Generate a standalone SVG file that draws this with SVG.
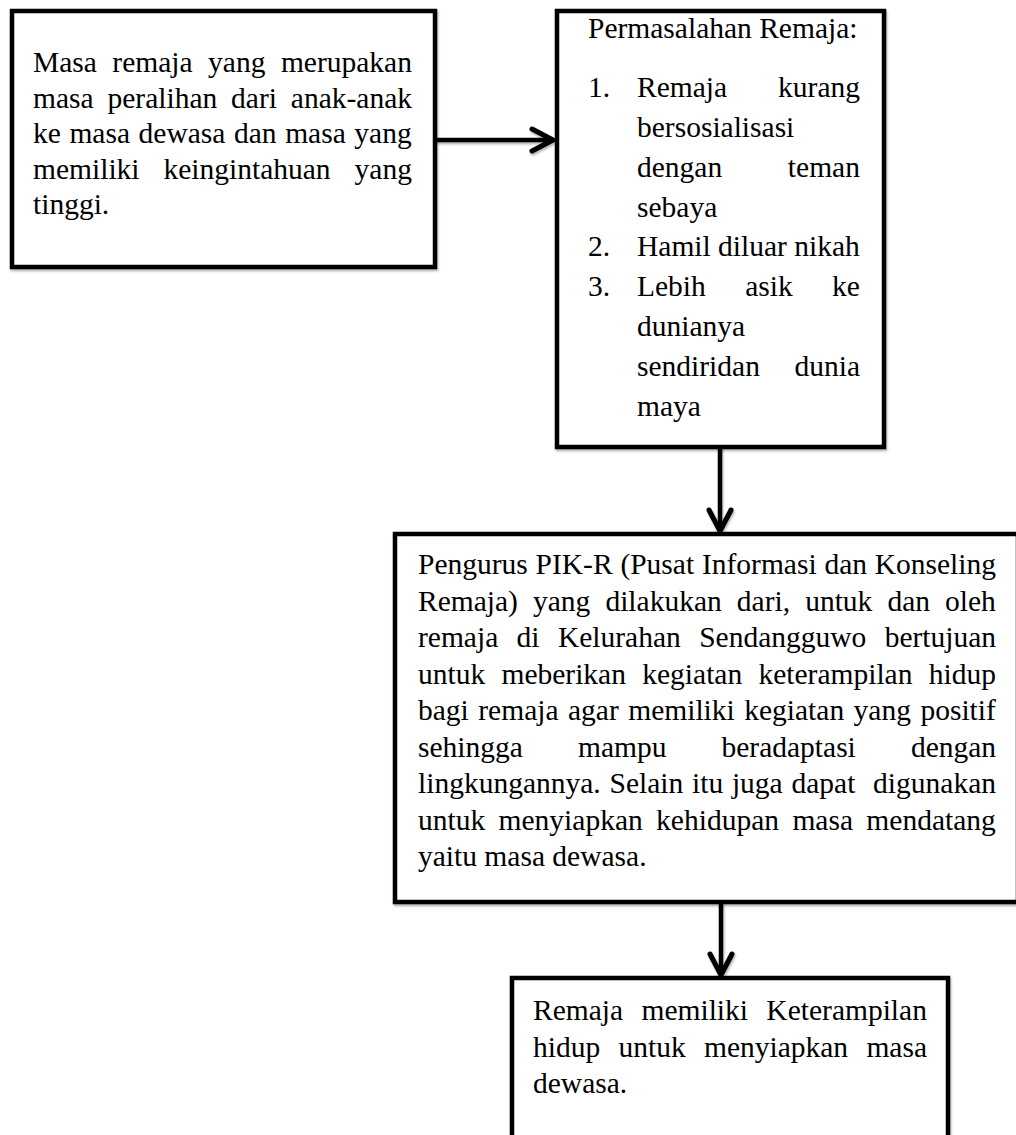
<svg xmlns="http://www.w3.org/2000/svg" width="1016" height="1135" viewBox="0 0 1016 1135">
<style>
  .box { fill: #ffffff; stroke: #000000; stroke-width: 4.5; filter: url(#sh); }
  .t { font-family: "Liberation Serif", "Times New Roman", serif; font-size: 29.5px; fill: #000000; }
  .e { text-anchor: end; }
  .conn { stroke: #000000; stroke-width: 4.5; fill: none; marker-end: url(#arr); filter: url(#sh); }
</style>
<defs>
  <filter id="sh" filterUnits="userSpaceOnUse" x="0" y="0" width="1016" height="1135">
    <feDropShadow dx="1" dy="2" stdDeviation="1.2" flood-color="#000000" flood-opacity="0.3"/>
  </filter>
  <marker id="arr" viewBox="-26 -15 30 30" markerWidth="30" markerHeight="30" refX="0" refY="0" orient="auto" markerUnits="userSpaceOnUse">
    <path d="M-21,-11 L0,0 L-21,11" fill="none" stroke="#000000" stroke-width="5" stroke-linecap="round" stroke-linejoin="round"/>
  </marker>
</defs>

<g id="connectors">
  <line class="conn" x1="435" y1="140" x2="553" y2="140"/>
  <line class="conn" x1="720" y1="447" x2="720" y2="531"/>
  <line class="conn" x1="721" y1="902" x2="721" y2="975"/>
</g>

<g id="node-masa-remaja">
  <rect class="box" x="12" y="11" width="423" height="256"/>
  <text class="t" x="33" y="72" word-spacing="8.1">Masa remaja yang merupakan</text>
  <text class="t" x="33" y="107.5" word-spacing="6.5">masa peralihan dari anak-anak</text>
  <text class="t" x="33" y="143" word-spacing="1.2">ke masa dewasa dan masa yang</text>
  <text class="t" x="33" y="178.5" word-spacing="16.6">memiliki keingintahuan yang</text>
  <text class="t" x="33" y="214">tinggi.</text>
</g>

<g id="node-permasalahan">
  <rect class="box" x="557" y="11" width="327" height="436"/>
  <text class="t" x="588" y="38">Permasalahan Remaja:</text>
  <text class="t" x="588" y="97">1.</text>
  <text class="t" x="637" y="97" word-spacing="43.6">Remaja kurang</text>
  <text class="t" x="637" y="137">bersosialisasi</text>
  <text class="t" x="637" y="177" word-spacing="58.3">dengan teman</text>
  <text class="t" x="637" y="217">sebaya</text>
  <text class="t" x="588" y="256">2.</text>
  <text class="t" x="637" y="256">Hamil diluar nikah</text>
  <text class="t" x="588" y="296">3.</text>
  <text class="t" x="637" y="296" word-spacing="32">Lebih asik ke</text>
  <text class="t" x="637" y="336">dunianya</text>
  <text class="t" x="637" y="376" word-spacing="27.2">sendiridan dunia</text>
  <text class="t" x="637" y="416">maya</text>
</g>

<g id="node-pik-r">
  <rect class="box" x="395" y="534" width="623" height="368"/>
  <text class="t" x="418" y="574" word-spacing="0.4">Pengurus PIK-R (Pusat Informasi dan Konseling</text>
  <text class="t" x="418" y="610.5" word-spacing="7.7">Remaja) yang dilakukan dari, untuk dan oleh</text>
  <text class="t" x="418" y="647" word-spacing="11">remaja di Kelurahan Sendangguwo bertujuan</text>
  <text class="t" x="418" y="683.5" word-spacing="8.9">untuk meberikan kegiatan keterampilan hidup</text>
  <text class="t" x="418" y="720" word-spacing="2.1">bagi remaja agar memiliki kegiatan yang positif</text>
  <text class="t" x="418" y="756.5" word-spacing="47.7">sehingga mampu beradaptasi dengan</text>
  <text class="t" x="418" y="793" word-spacing="1.4">lingkungannya. Selain itu juga dapat</text>
  <text class="t e" x="996" y="793">digunakan</text>
  <text class="t" x="418" y="829.5" word-spacing="6">untuk menyiapkan kehidupan masa mendatang</text>
  <text class="t" x="418" y="866">yaitu masa dewasa.</text>
</g>

<g id="node-keterampilan">
  <rect class="box" x="512" y="978" width="436" height="200"/>
  <text class="t" x="533" y="1020" word-spacing="11">Remaja memiliki Keterampilan</text>
  <text class="t" x="533" y="1056.5" word-spacing="10.9">hidup untuk menyiapkan masa</text>
  <text class="t" x="533" y="1093">dewasa.</text>
</g>
</svg>
